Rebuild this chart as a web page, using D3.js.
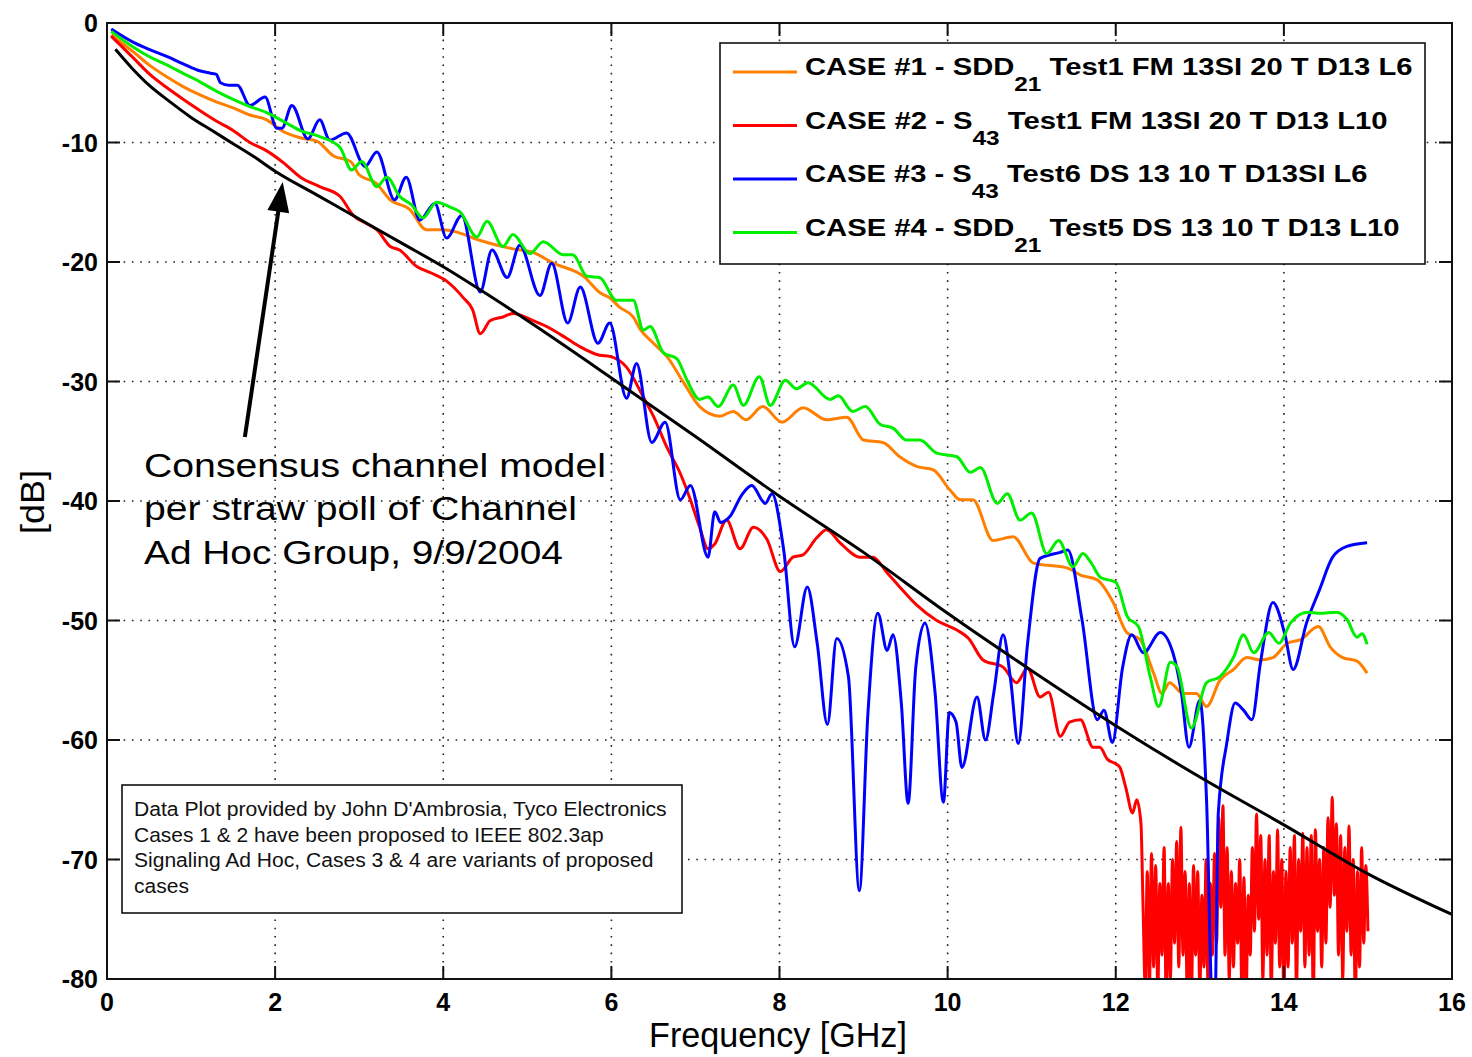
<!DOCTYPE html>
<html>
<head>
<meta charset="utf-8">
<script src="https://cdn.jsdelivr.net/npm/d3@7"></script>
<style>
  html, body { margin: 0; padding: 0; background: #fff; }
  svg { display: block; font-family: "Liberation Sans", Arial, Helvetica, sans-serif; }
</style>
</head>
<body>
<svg id="chart" width="1472" height="1057"></svg>
<script>
// ---------------- data ----------------
const xTicks = [0, 2, 4, 6, 8, 10, 12, 14, 16];
const yTicks = [0, -10, -20, -30, -40, -50, -60, -70, -80];

const seriesColors = ["#ff8000", "#ff0000", "#0000ff", "#00ee00"];
const legendMain = ["CASE #1 - SDD", "CASE #2 - S", "CASE #3 - S", "CASE #4 - SDD"];
const legendSub = ["21", "43", "43", "21"];
const legendRest = [" Test1 FM 13SI 20 T D13 L6", " Test1 FM 13SI 20 T D13 L10",
                    " Test6 DS 13 10 T D13SI L6", " Test5 DS 13 10 T D13 L10"];

// CASE #1 (GHz, dB)
const case1 = [[0.05,-1.0],[0.31,-2.4],[0.5,-3.5],[0.71,-4.5],[0.9,-5.3],[1.1,-6.0],[1.3,-6.6],[1.5,-7.1],
  [1.7,-7.7],[1.9,-8.1],[2.1,-9.1],[2.3,-9.6],[2.5,-9.9],[2.69,-11.1],[2.9,-11.6],[3.0,-12.7],[3.2,-13.4],
  [3.37,-14.8],[3.6,-15.6],[3.8,-17.3],[4.0,-17.3],[4.16,-17.5],[4.44,-18.2],[4.83,-18.9],[5.07,-19.2],
  [5.31,-20.1],[5.67,-21.2],[5.87,-22.6],[5.98,-23.0],[6.1,-23.8],[6.26,-24.6],[6.34,-25.6],[6.5,-26.8],
  [6.66,-27.9],[6.86,-30.1],[7.05,-32.1],[7.29,-32.9],[7.45,-32.5],[7.6,-33.2],[7.8,-32.1],[8.03,-33.4],
  [8.28,-32.2],[8.56,-33.2],[8.8,-33.0],[9.0,-34.9],[9.23,-35.1],[9.43,-36.3],[9.63,-37.1],[9.83,-37.4],
  [10.03,-39.1],[10.15,-39.9],[10.3,-39.9],[10.54,-43.3],[10.78,-43.0],[11.02,-45.2],[11.42,-45.6],
  [11.58,-46.2],[11.78,-46.6],[11.97,-48.5],[12.13,-51.0],[12.29,-51.6],[12.45,-54.4],[12.55,-56.1],
  [12.64,-55.2],[12.8,-56.1],[12.96,-56.1],[13.08,-57.2],[13.24,-55.0],[13.4,-54.1],[13.56,-53.1],
  [13.72,-53.3],[13.87,-53.1],[14.04,-51.9],[14.2,-51.6],[14.41,-50.5],[14.55,-52.2],[14.7,-53.1],
  [14.87,-53.4],[14.99,-54.4]];

// CASE #2 (GHz, dB)
const case2 = [[0.05,-1.1],[0.31,-2.9],[0.51,-4.3],[0.71,-5.4],[0.91,-6.4],[1.1,-7.3],[1.3,-8.2],[1.5,-9.0],
  [1.7,-10.0],[1.9,-10.7],[2.1,-11.7],[2.3,-12.9],[2.53,-13.7],[2.77,-14.5],[2.93,-16.1],[3.09,-16.8],
  [3.21,-17.3],[3.37,-18.7],[3.48,-19.0],[3.69,-20.4],[3.85,-20.9],[4.04,-21.6],[4.24,-23.0],[4.35,-24.0],
  [4.44,-26.0],[4.56,-24.9],[4.71,-24.6],[4.83,-24.3],[5.07,-24.9],[5.23,-25.4],[5.47,-26.4],[5.63,-27.1],
  [5.86,-27.8],[5.98,-27.9],[6.18,-28.8],[6.38,-31.3],[6.5,-32.9],[6.66,-35.5],[6.82,-37.7],[6.94,-39.9],
  [7.05,-42.2],[7.15,-44.0],[7.23,-43.6],[7.37,-41.6],[7.53,-44.0],[7.69,-42.2],[7.85,-43.2],[8.01,-45.9],
  [8.16,-44.7],[8.28,-44.5],[8.44,-43.1],[8.56,-42.4],[8.72,-43.5],[8.96,-44.7],[9.11,-44.7],[9.28,-46.0],
  [9.43,-47.2],[9.63,-48.7],[9.87,-50.0],[10.11,-50.8],[10.25,-51.5],[10.42,-53.3],[10.66,-53.9],
  [10.82,-55.2],[10.95,-54.0],[11.1,-56.4],[11.2,-56.0],[11.34,-59.7],[11.45,-58.5],[11.58,-58.3],
  [11.73,-60.6],[11.81,-60.6],[11.9,-61.6],[12.0,-62.0],[12.05,-62.3],[12.12,-64.0],[12.2,-66.1],
  [12.25,-65.0],
  [12.300,-67.0],[12.325,-74],[12.350,-80.5],[12.375,-71],[12.400,-81],[12.425,-69.5],[12.450,-79],[12.475,-70.5],
  [12.500,-81],[12.525,-72],[12.550,-78],[12.575,-69],[12.600,-82],[12.625,-72],[12.650,-80],[12.675,-70],
  [12.700,-77],[12.725,-68.5],[12.750,-79],[12.775,-67.3],[12.800,-78],[12.825,-71],[12.850,-81],[12.875,-72],
  [12.900,-82],[12.925,-70.5],[12.950,-78],[12.975,-71],[13.000,-81],[13.025,-73],[13.050,-79],[13.075,-70],
  [13.100,-82],[13.125,-72],[13.150,-78],[13.175,-69.5],[13.200,-77],[13.225,-66.5],[13.250,-74],[13.275,-65.5],
  [13.300,-78],[13.325,-69],[13.350,-80],[13.375,-71],[13.400,-79],[13.425,-72],[13.450,-77],[13.475,-70],
  [13.500,-81],[13.525,-71.5],[13.550,-82],[13.575,-73],[13.600,-78],[13.625,-69],[13.650,-76],[13.675,-66.2],
  [13.700,-75],[13.725,-68],[13.750,-80],[13.775,-70],[13.800,-78],[13.825,-68],[13.850,-81],[13.875,-71],
  [13.900,-77],[13.925,-67.5],[13.950,-79],[13.975,-70],[14.000,-82],[14.025,-71],[14.050,-79],[14.075,-69],
  [14.100,-77],[14.125,-68],[14.150,-81],[14.175,-70],[14.200,-76],[14.225,-67.8],[14.250,-79],[14.275,-69],
  [14.300,-78],[14.325,-68],[14.350,-82],[14.375,-67.5],[14.400,-76],[14.425,-70],[14.450,-79],[14.475,-69],
  [14.500,-77],[14.525,-66.5],[14.550,-74],[14.575,-64.8],[14.600,-73],[14.625,-67],[14.650,-78],[14.675,-68],
  [14.700,-80],[14.725,-69],[14.750,-76],[14.775,-67.2],[14.800,-78],[14.825,-70],[14.850,-82],[14.875,-71],
  [14.900,-79],[14.925,-69],[14.950,-77],[14.975,-70.5],[15.000,-76]];

// CASE #3 (GHz, dB)
const case3 = [[0.05,-0.5],[0.31,-1.6],[0.5,-2.2],[0.71,-2.8],[0.9,-3.4],[1.1,-4.0],[1.23,-4.2],[1.3,-4.3],
  [1.35,-5.0],[1.45,-5.2],[1.55,-5.2],[1.7,-6.9],[1.88,-6.2],[2.02,-8.8],[2.08,-8.8],[2.2,-6.9],[2.39,-9.7],
  [2.53,-8.1],[2.65,-9.8],[2.85,-9.2],[3.07,-12.0],[3.21,-10.8],[3.42,-14.8],[3.56,-12.9],[3.72,-16.5],
  [3.9,-15.1],[4.04,-18.0],[4.22,-16.1],[4.44,-22.5],[4.58,-19.0],[4.76,-21.3],[4.91,-18.6],[5.15,-22.8],
  [5.29,-20.1],[5.48,-25.1],[5.63,-22.1],[5.84,-26.8],[5.98,-25.1],[6.18,-31.4],[6.30,-28.5],[6.48,-35.1],
  [6.64,-33.4],[6.82,-39.9],[6.94,-38.7],[7.15,-44.7],[7.23,-40.9],[7.30,-41.8],[7.41,-41.3],[7.55,-39.5],
  [7.67,-38.7],[7.83,-40.2],[7.91,-39.4],[8.05,-44.1],[8.18,-52.2],[8.33,-47.2],[8.45,-52.0],[8.57,-58.7],
  [8.68,-51.5],[8.82,-54.7],[8.95,-72.6],[9.05,-58.0],[9.17,-49.4],[9.28,-52.5],[9.35,-51.2],[9.45,-57.0],
  [9.53,-65.3],[9.62,-54.0],[9.73,-50.2],[9.85,-56.0],[9.95,-65.2],[10.02,-57.7],[10.10,-58.5],
  [10.17,-62.3],[10.35,-56.4],[10.45,-60.0],[10.55,-56.0],[10.66,-51.2],[10.75,-55.0],[10.84,-60.3],
  [10.95,-52.0],[11.1,-44.8],[11.34,-44.3],[11.43,-44.1],[11.6,-50.0],[11.78,-58.3],[11.86,-57.5],
  [11.96,-60.2],[12.08,-54.0],[12.19,-51.2],[12.33,-52.7],[12.53,-51.0],[12.68,-52.7],[12.78,-56.0],
  [12.87,-60.6],[13.0,-56.7],[13.08,-65.0],[13.15,-82.0],[13.18,-82.0],[13.22,-66.1],[13.32,-60.3],
  [13.42,-56.9],[13.52,-57.5],[13.62,-58.3],[13.72,-53.6],[13.87,-48.5],[14.01,-51.1],[14.11,-54.1],
  [14.27,-50.2],[14.42,-47.5],[14.58,-44.7],[14.75,-43.8],[14.99,-43.5]];

// CASE #4 (GHz, dB)
const case4 = [[0.05,-0.7],[0.31,-2.0],[0.5,-2.8],[0.71,-3.5],[0.9,-4.2],[1.1,-4.9],[1.3,-5.7],[1.5,-6.4],
  [1.7,-7.0],[1.9,-7.5],[2.14,-8.4],[2.3,-9.0],[2.53,-9.5],[2.77,-10.4],[2.91,-12.3],[3.03,-11.6],
  [3.21,-13.7],[3.33,-12.9],[3.48,-14.5],[3.62,-15.2],[3.76,-16.3],[3.92,-15.0],[4.08,-15.4],[4.2,-15.8],
  [4.4,-17.9],[4.52,-16.6],[4.71,-18.7],[4.83,-17.7],[5.03,-19.3],[5.19,-18.3],[5.43,-19.4],[5.54,-19.4],
  [5.71,-21.2],[5.86,-21.3],[6.06,-23.2],[6.26,-23.2],[6.38,-25.7],[6.46,-25.4],[6.62,-27.6],[6.78,-28.1],
  [6.9,-29.9],[7.05,-31.5],[7.15,-31.3],[7.27,-32.1],[7.45,-30.3],[7.57,-32.0],[7.76,-29.6],[7.89,-32.0],
  [8.07,-29.9],[8.2,-30.6],[8.34,-30.1],[8.6,-31.5],[8.7,-31.2],[8.87,-32.5],[9.02,-32.1],[9.2,-33.6],
  [9.35,-33.9],[9.51,-34.9],[9.67,-34.9],[9.87,-36.0],[10.11,-36.3],[10.27,-37.6],[10.39,-37.2],
  [10.59,-40.2],[10.71,-39.4],[10.86,-41.6],[11.0,-41.0],[11.18,-44.4],[11.32,-43.3],[11.49,-45.5],
  [11.61,-44.4],[11.7,-45.1],[11.82,-46.4],[12.0,-46.8],[12.14,-49.7],[12.27,-50.5],[12.41,-54.7],
  [12.51,-57.2],[12.65,-53.5],[12.73,-53.9],[12.9,-59.0],[13.08,-55.2],[13.24,-54.7],[13.4,-53.1],
  [13.52,-51.2],[13.64,-52.7],[13.82,-51.0],[13.94,-51.9],[14.08,-50.2],[14.28,-49.3],[14.43,-49.4],
  [14.63,-49.3],[14.75,-49.9],[14.87,-51.4],[14.93,-51.1],[14.99,-52.0]];

// consensus channel model (GHz, dB)
const model = [[0.1,-2.2],[0.3,-3.8],[0.5,-5.2],[0.75,-6.6],[1.0,-7.9],[1.25,-9.0],[1.5,-10.1],[1.75,-11.2],
  [2.0,-12.4],[2.5,-14.4],[3.0,-16.4],[3.5,-18.4],[4.0,-20.4],[4.5,-22.6],[5.0,-24.9],[6.0,-29.7],
  [7.0,-34.6],[8.0,-39.6],[9.0,-44.3],[10.0,-49.4],[11.0,-54.2],[12.0,-58.8],[13.0,-63.1],[14.0,-67.1],
  [15.0,-71.2],[16.0,-74.6]];

const annotationLines = ["Consensus channel model", "per straw poll of Channel", "Ad Hoc Group, 9/9/2004"];
const noteLines = ["Data Plot provided by John D'Ambrosia, Tyco Electronics",
  "Cases 1 & 2 have been proposed to IEEE 802.3ap",
  "Signaling Ad Hoc, Cases 3 & 4 are variants of proposed",
  "cases"];
const arrowTail = [1.64, -34.65];
const arrowTip = [2.09, -13.3];

// ---------------- layout ----------------
const svg = d3.select("#chart");
const L = 107, R = 1452, T = 23, B = 979;
const x = d3.scaleLinear().domain([0, 16]).range([L, R]);
const y = d3.scaleLinear().domain([-80, 0]).range([B, T]);

svg.append("rect").attr("width", 1472).attr("height", 1057).attr("fill", "#fff");

// stretch a text element horizontally about a fixed x so it spans a given width
function fitWidth(sel, target, ax) {
  const w = sel.node().getBBox().width;
  const k = target / w;
  sel.attr("transform", `translate(${ax},0) scale(${k},1) translate(${-ax},0)`);
}

svg.append("defs").append("clipPath").attr("id", "plotClip")
  .append("rect").attr("x", L).attr("y", T).attr("width", R - L).attr("height", B - T);

// dotted grid
const grid = svg.append("g").attr("stroke", "#222").attr("stroke-width", 1.6)
  .attr("stroke-dasharray", "1.6,6.7");
grid.selectAll("line.gx").data(xTicks.slice(1, -1)).join("line")
  .attr("x1", d => x(d)).attr("x2", d => x(d)).attr("y1", T).attr("y2", B);
grid.selectAll("line.gy").data(yTicks.slice(1, -1)).join("line")
  .attr("x1", L).attr("x2", R).attr("y1", d => y(d)).attr("y2", d => y(d));

// curves
const line = d3.line().x(d => x(d[0])).y(d => y(d[1])).curve(d3.curveMonotoneX);
const curves = svg.append("g").attr("clip-path", "url(#plotClip)")
  .attr("fill", "none").attr("stroke-width", 3).attr("stroke-linejoin", "round");
[case1, case2, case3, case4].forEach((s, i) => {
  curves.append("path").attr("d", line(s)).attr("stroke", seriesColors[i]);
});
curves.append("path").attr("d", line(model)).attr("stroke", "#000");

// axes frame with inward ticks on all four sides
const frame = svg.append("g").attr("stroke", "#111").attr("stroke-width", 2);
frame.append("rect").attr("x", L).attr("y", T).attr("width", R - L).attr("height", B - T).attr("fill", "none");
const tl = 13;
xTicks.forEach(t => {
  frame.append("line").attr("x1", x(t)).attr("x2", x(t)).attr("y1", B).attr("y2", B - tl);
  frame.append("line").attr("x1", x(t)).attr("x2", x(t)).attr("y1", T).attr("y2", T + tl);
});
yTicks.forEach(t => {
  frame.append("line").attr("x1", L).attr("x2", L + tl).attr("y1", y(t)).attr("y2", y(t));
  frame.append("line").attr("x1", R).attr("x2", R - tl).attr("y1", y(t)).attr("y2", y(t));
});

// tick labels
const tickFont = 25;
svg.append("g").selectAll("text").data(xTicks).join("text")
  .attr("x", d => x(d)).attr("y", 1011).attr("text-anchor", "middle")
  .attr("font-size", tickFont).attr("font-weight", "bold").text(d => d);
svg.append("g").selectAll("text").data(yTicks).join("text")
  .attr("x", 98).attr("y", d => y(d) + 9).attr("text-anchor", "end")
  .attr("font-size", tickFont).attr("font-weight", "bold").text(d => d);

// axis titles
const xTitle = svg.append("text").attr("x", 778).attr("y", 1047).attr("text-anchor", "middle")
  .attr("font-size", 35).text("Frequency [GHz]");
fitWidth(xTitle, 258, 778);
const yTitleG = svg.append("g").attr("transform", "translate(44,502) rotate(-90)");
const yTitle = yTitleG.append("text").attr("x", 0).attr("y", 0).attr("text-anchor", "middle")
  .attr("font-size", 33).text("[dB]");
fitWidth(yTitle, 64, 0);

// legend
const lg = svg.append("g");
lg.append("rect").attr("x", 720).attr("y", 43).attr("width", 705).attr("height", 221)
  .attr("fill", "#fff").attr("stroke", "#111").attr("stroke-width", 1.6);
const legendWidths = [608, 583, 563, 595];
legendMain.forEach((m, i) => {
  const base = 75.5 + i * 53.5;
  lg.append("line").attr("x1", 733).attr("x2", 797).attr("y1", base - 3.5).attr("y2", base - 3.5)
    .attr("stroke", seriesColors[i]).attr("stroke-width", 3);
  const t = lg.append("text").attr("x", 805).attr("y", base)
    .attr("font-size", 24).attr("font-weight", "bold");
  t.append("tspan").text(m);
  t.append("tspan").attr("dy", 16).attr("font-size", 20).text(legendSub[i]);
  t.append("tspan").attr("dy", -16).attr("font-size", 24).text(legendRest[i]);
  fitWidth(t, legendWidths[i], 805);
});

// annotation for the model curve
const annWidths = [462, 433, 419];
annotationLines.forEach((s, i) => {
  const t = svg.append("text").attr("x", 144).attr("y", 477 + i * 43.5)
    .attr("font-size", 34).text(s);
  fitWidth(t, annWidths[i], 144);
});
const ax0 = x(arrowTail[0]), ay0 = y(arrowTail[1]), ax1 = x(arrowTip[0]), ay1 = y(arrowTip[1]);
const len = Math.hypot(ax1 - ax0, ay1 - ay0);
const ux = (ax1 - ax0) / len, uy = (ay1 - ay0) / len;
const headL = 30, headW = 11;
const bx = ax1 - ux * headL, by = ay1 - uy * headL;
svg.append("line").attr("x1", ax0).attr("y1", ay0).attr("x2", bx + ux * 4).attr("y2", by + uy * 4)
  .attr("stroke", "#000").attr("stroke-width", 4);
svg.append("path")
  .attr("d", `M${ax1},${ay1}L${bx - uy * headW},${by + ux * headW}L${bx + uy * headW},${by - ux * headW}Z`)
  .attr("fill", "#000");

// note box
svg.append("rect").attr("x", 122).attr("y", 785).attr("width", 560).attr("height", 128)
  .attr("fill", "#fff").attr("stroke", "#111").attr("stroke-width", 1.6);
const noteWidths = [533, 470, 520, 55];
noteLines.forEach((s, i) => {
  const t = svg.append("text").attr("x", 134).attr("y", 816 + i * 25.6)
    .attr("font-size", 21).attr("fill", "#111").text(s);
  fitWidth(t, noteWidths[i], 134);
});
</script>
</body>
</html>
